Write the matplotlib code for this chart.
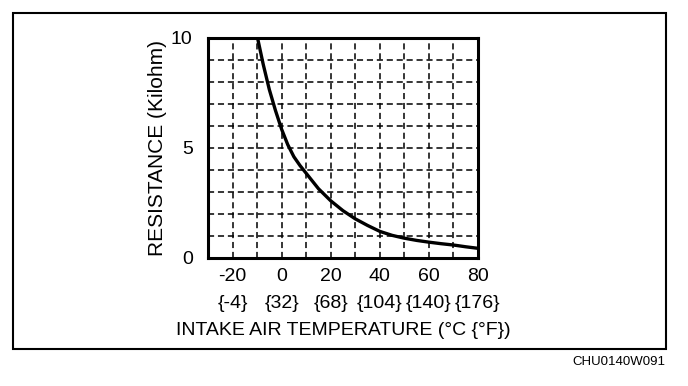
import matplotlib

matplotlib.use("Agg")

import matplotlib.pyplot as plt
from matplotlib.patches import Rectangle

# intake air temperature sensor: resistance vs temperature
temp_c = [-10, -7.5, -5, -2.5, 0, 2.5, 5, 7.5, 10, 15, 20, 25, 30, 35, 40, 45, 50, 55, 60, 65,
          70, 75, 80]
resistance_kohm = [10.1, 8.8, 7.65, 6.7, 5.85, 5.15, 4.6, 4.2, 3.85, 3.15, 2.6, 2.15, 1.78, 1.48,
                   1.21, 1.03, 0.90, 0.80, 0.72, 0.65, 0.59, 0.51, 0.44]

x_ticks = [-20, 0, 20, 40, 60, 80]
x_ticks_f = ["{-4}", "{32}", "{68}", "{104}", "{140}", "{176}"]
y_ticks = [0, 5, 10]

plt.rcParams["font.family"] = ["Liberation Sans", "DejaVu Sans"]

W, H = 688, 386
fig = plt.figure(figsize=(W / 100, H / 100), dpi=100)
ax = fig.add_axes([208 / W, 1 - 258 / H, (478 - 208) / W, (258 - 38) / H])

ax.plot(temp_c, resistance_kohm, color="black", linewidth=2.4, solid_capstyle="butt")
ax.set_xlim(-30, 80)
ax.set_ylim(0, 10)

ax.set_xticks(x_ticks)
ax.set_xticklabels([f"{t}\n{f}" for t, f in zip(x_ticks, x_ticks_f)], linespacing=1.8)
ax.set_xticks(range(-20, 80, 10), minor=True)
ax.set_yticks(y_ticks)
ax.set_yticks(range(1, 10), minor=True)
ax.tick_params(which="both", length=0, labelsize=14)
ax.tick_params(axis="x", pad=7)
ax.tick_params(axis="y", pad=11)

ax.grid(True, which="both", color="black", linestyle=(0, (4, 2.5)), linewidth=1.1)
for s in ax.spines.values():
    s.set_linewidth(2.2)

ax.set_xlabel("INTAKE AIR TEMPERATURE (°C {°F})", fontsize=14, labelpad=7)
ax.set_ylabel("RESISTANCE (Kilohm)", fontsize=15, labelpad=3)

fig.patches.append(Rectangle((13 / W, 1 - 349 / H), (666 - 13) / W, (349 - 13) / H,
                             transform=fig.transFigure, fill=False,
                             edgecolor="black", linewidth=1.5))
fig.text(665 / W, 1 - 362 / H, "CHU0140W091", fontsize=9.5, ha="right", va="center")

fig.savefig("out.png", dpi=100)
